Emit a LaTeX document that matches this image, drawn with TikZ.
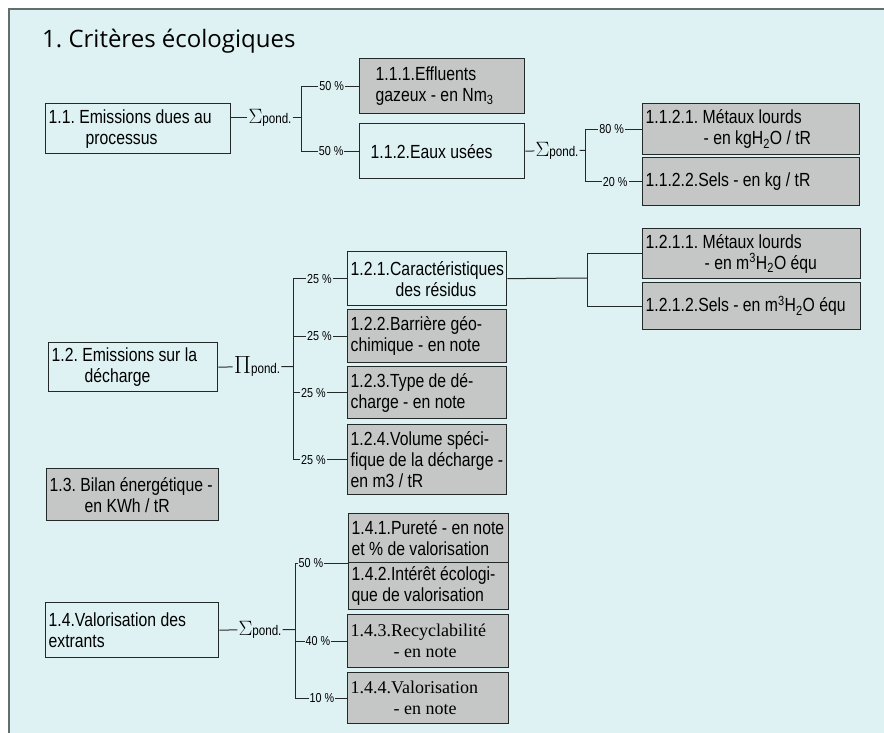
\documentclass[tikz,border=0pt]{standalone}
\usepackage{fontspec}
\setmainfont[FakeStretch=0.83]{Liberation Sans}
\newfontfamily\titlefont{Open Sans}
\newfontfamily\serifbox{Liberation Serif}
\usepackage{xcolor}
\usetikzlibrary{positioning,calc}

\definecolor{bgcyan}{RGB}{222,242,244}
\definecolor{boxgray}{RGB}{196,199,197}
\definecolor{inkline}{RGB}{35,40,40}
\definecolor{frameline}{RGB}{100,108,108}

\tikzset{
  crit/.style={draw=inkline, line width=1.3pt, anchor=north west, inner xsep=3pt, inner ysep=0pt,
    align=left, font=\fontsize{19}{21}\selectfont,
    execute at begin node={\spaceskip=0pt\xspaceskip=0pt\relax}},
  shaded/.style={crit, fill=boxgray},
  pct/.style={fill=bgcyan, inner xsep=1pt, inner ysep=0pt, font=\fontsize{13}{13}\selectfont},
  wsum/.style={inner sep=1pt, font=\fontsize{14}{14}\selectfont},
  branch/.style={draw=inkline, line width=1pt}
}

\begin{document}
\frenchspacing
\begin{tikzpicture}[x=1pt,y=-1pt]
  \useasboundingbox (0,0) rectangle (884,733);
  \fill[bgcyan] (9,9) rectangle (884,733);
  \draw[frameline, line width=1.5pt] (9,733) -- (9,9) -- (884,9);

  \node(title)[anchor=base west, inner sep=0pt, font=\titlefont\fontsize{24}{24}\selectfont] at (42,48) {1. Critères écologiques};

  % 1.1
  \node(b11)[crit, text width=179pt, minimum height=50pt] at (45,103) {1.1. Emissions dues au\\\hspace*{37pt}processus};
  \node(b111)[shaded, text width=159pt, minimum height=55pt] at (359,58) {\hspace*{13pt}1.1.1.Effluents\\\hspace*{13pt}gazeux - en Nm\textsubscript{3}};
  \node(b112)[crit, text width=159pt, minimum height=55pt] at (359,123) {\hspace*{8pt}1.1.2.Eaux usées};
  \node(b1121)[shaded, text width=211pt, minimum height=51pt] at (642,103) {1.1.2.1. Métaux lourds\\\hspace*{58pt}- en kgH\textsubscript{2}O / tR};
  \node(b1122)[shaded, text width=211pt, minimum height=48pt] at (642,157) {1.1.2.2.Sels - en kg / tR};

  \node(s11)[wsum] at (270,118) {{\fontsize{20}{20}\selectfont$\Sigma$}pond.};
  \coordinate(j11) at (301,118);
  \draw[branch] (b11.east |- j11) -- (s11) -- (j11);
  \draw[branch] (j11 |- b111) -- (j11 |- b112);
  \draw[branch] (j11 |- b111) -- node[pct,pos=0.53]{50 \%} (b111);
  \draw[branch] (j11 |- b112) -- node[pct,pos=0.52]{50 \%} (b112);

  \node(s112)[wsum] at (557,150.5) {{\fontsize{20}{20}\selectfont$\Sigma$}pond.};
  \coordinate(j112) at (585,150.5);
  \draw[branch] (b112.east) -- (s112) -- (j112);
  \draw[branch] (j112 |- b1121) -- (j112 |- b1122);
  \draw[branch] (j112 |- b1121) -- node[pct,pos=0.47]{80 \%} (b1121);
  \draw[branch] (j112 |- b1122) -- node[pct,pos=0.53]{20 \%} (b1122);

  % 1.2
  \node(b12)[crit, text width=163pt, minimum height=49pt] at (48,342) {1.2. Emissions sur la\\\hspace*{33pt}décharge};
  \node(b121)[crit, text width=153pt, minimum height=54pt] at (347,251) {1.2.1.Caractéristiques\\\hspace*{45pt}des résidus};
  \node(b122)[shaded, text width=153pt, minimum height=53pt] at (347,309) {1.2.2.Barrière géo-\\chimique - en note};
  \node(b123)[shaded, text width=153pt, minimum height=52pt] at (347,366) {1.2.3.Type de dé-\\charge - en note};
  \node(b124)[shaded, text width=153pt, minimum height=70pt] at (347,424) {1.2.4.Volume spéci-\\fique de la décharge -\\en m3 / tR};
  \node(b1211)[shaded, text width=212pt, minimum height=50pt] at (642,228) {1.2.1.1. Métaux lourds\\\hspace*{59pt}- en m\textsuperscript{3}H\textsubscript{2}O équ};
  \node(b1212)[shaded, text width=212pt, minimum height=47pt] at (642,282) {1.2.1.2.Sels - en m\textsuperscript{3}H\textsubscript{2}O équ};

  \node(p12)[wsum] at (257,366.5) {{\fontsize{24}{24}\selectfont$\Pi$}pond.};
  \coordinate(j12) at (293,366.5);
  \draw[branch] (b12.east) -- (p12) -- (j12);
  \draw[branch] (j12 |- b121) -- (j12 |- b124);
  \draw[branch] (j12 |- b121) -- node[pct,pos=0.49]{25 \%} (b121);
  \draw[branch] (j12 |- b122) -- node[pct,pos=0.49]{25 \%} (b122);
  \draw[branch] (j12 |- b123) -- node[pct,pos=0.38]{25 \%} (b123);
  \draw[branch] (j12 |- b124) -- node[pct,pos=0.38]{25 \%} (b124);

  \coordinate(j121) at (587,278);
  \draw[branch] (b121.east) -- (j121);
  \draw[branch] (j121 |- b1211) -- (j121 |- b1212);
  \draw[branch] (j121 |- b1211) -- (b1211);
  \draw[branch] (j121 |- b1212) -- (b1212);

  % 1.3
  \node(b13)[shaded, text width=166pt, minimum height=52pt] at (46,468) {1.3. Bilan énergétique -\\\hspace*{35pt}en KWh / tR};

  % 1.4
  \node(b14)[crit, text width=167pt, minimum height=55pt] at (45,602) {1.4.Valorisation des\\extrants};
  \node(b141)[shaded, text width=154pt, minimum height=49pt] at (348,513) {1.4.1.Pureté - en note\\et \% de valorisation};
  \node(b142)[shaded, text width=154pt, minimum height=47pt] at (348,562) {1.4.2.Intérêt écologi-\\que de valorisation};
  \node(b143)[shaded, text width=155pt, minimum height=53pt, font=\serifbox\fontsize{18}{21}\selectfont] at (347,614) {1.4.3.Recyclabilité\\\hspace*{43pt}- en note};
  \node(b144)[shaded, text width=155pt, minimum height=51pt, font=\serifbox\fontsize{18}{21}\selectfont] at (347,672) {1.4.4.Valorisation\\\hspace*{43pt}- en note};

  \node(s14)[wsum] at (260,629.5) {{\fontsize{20}{20}\selectfont$\Sigma$}pond.};
  \coordinate(j14) at (295,629.5);
  \draw[branch] (b14.east) -- (s14) -- (j14);
  \draw[branch] (j14 |- b141.south) -- (j14 |- b144);
  \draw[branch] (j14 |- b141.south) -- node[pct,pos=0.3]{50 \%} (b141.south west);
  \draw[branch] (j14 |- b143) -- node[pct,pos=0.44]{40 \%} (b143);
  \draw[branch] (j14 |- b144) -- node[pct,pos=0.52]{10 \%} (b144);
\end{tikzpicture}
\end{document}
